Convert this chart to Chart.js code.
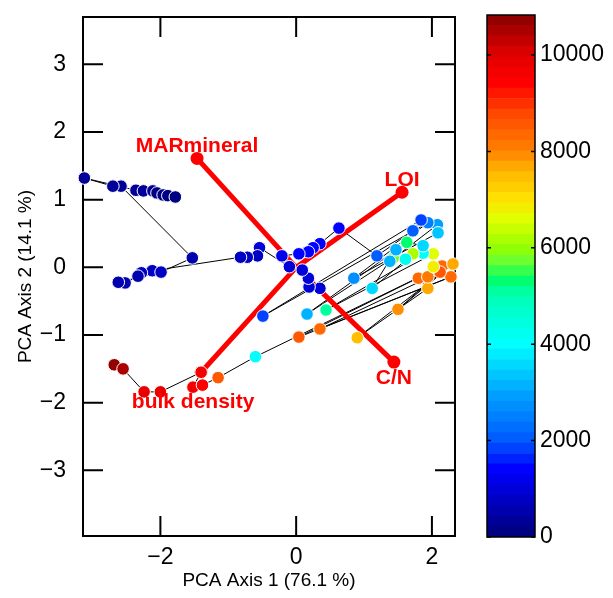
<!DOCTYPE html>
<html>
<head>
<meta charset="utf-8">
<script src="https://cdn.jsdelivr.net/npm/chart.js@4.4.1/dist/chart.umd.min.js"></script>
<style>
  html, body { margin: 0; padding: 0; background: #fff; overflow: hidden; }
  #wrap { position: relative; width: 613px; height: 598px; }
  #pca { position: absolute; left: 0; top: 0; }
  #bar { position: absolute; left: 470px; top: 0; }
</style>
</head>
<body>
<div id="wrap">
  <canvas id="pca" width="470" height="598"></canvas>
  <canvas id="bar" width="143" height="598"></canvas>
</div>
<script>
// sample scores on the first two PCA axes, in time order (oldest first)
const pcaX = [-2.68,-2.55,-2.24,-2.00,-1.40,-1.52,-1.38,-1.15,-0.60,2.15,
  0.04,2.28,0.35,2.12,1.50,2.31,0.90,1.94,1.80,1.94,
  2.02,2.02,0.44,1.87,1.72,1.61,1.43,0.16,1.63,1.87,
  1.12,1.47,1.38,2.08,2.09,0.85,1.94,-0.49,1.84,1.72,
  1.19,0.63,0.35,0.25,0.18,0.04,-0.21,0.35,0.19,0.18,
  0.09,-0.10,-0.54,-0.57,-0.72,-0.82,
  -2.12,-2.28,-2.33,-2.52,-2.62,-1.99,-1.53,
  -2.58,-2.70,-3.12,-2.36,-2.25,-2.11,-2.05,-1.96,-1.89,-1.78]
const pcaY = [-1.44,-1.50,-1.84,-1.84,-1.55,-1.77,-1.74,-1.63,-1.32,0.02,
  -1.03,-0.14,-0.91,-0.07,-0.62,0.05,-1.04,-0.31,-0.16,-0.14,
  0.01,0.20,-0.63,0.21,0.20,0.12,0.14,-0.69,0.37,0.32,
  -0.31,0.26,0.09,0.63,0.51,-0.16,0.66,-0.72,0.70,0.54,
  0.17,0.58,0.35,0.29,0.23,0.20,0.17,-0.31,-0.29,-0.16,
  -0.04,0.01,0.29,0.17,0.15,0.15,
  -0.05,-0.08,-0.13,-0.23,-0.22,-0.07,0.14,
  1.20,1.20,1.32,1.14,1.13,1.13,1.10,1.07,1.06,1.04]
const ages = [10700,10450,9900,9800,9700,9600,9500,8600,3900,8300,
  8500,8400,8350,8450,7900,7600,7400,7600,8300,8200,
  6900,6600,5000,4100,6200,4300,5700,3200,5400,3500,
  3600,3200,3200,2900,3300,2600,2500,1800,1800,2000,
  2100,1400,1450,1400,1350,1300,1250,1000,1050,1000,
  1000,950,900,850,820,800,
  680,650,620,600,580,700,500,
  400,380,300,260,240,220,200,180,160,140]

// variable loadings
const vectorNames = ['MARmineral', 'LOI', 'C/N', 'bulk density']
const vectorX = [-1.46, 1.56, 1.44, -1.40]
const vectorY = [1.61, 1.11, -1.40, -1.55]

const xTicks = [-2, 0, 2]
const yTicks = [-3, -2, -1, 0, 1, 2, 3]
const ageTicks = [0, 2000, 4000, 6000, 8000, 10000]
const ageMax = 10830

const FONT = 'Liberation Sans, Arial, Helvetica, sans-serif'
const bands = 50

// rainbow colour table
const stops = [
  [0, 0, 0, 120], [700, 0, 0, 190], [1400, 0, 0, 255], [2000, 0, 90, 255],
  [3000, 0, 165, 255], [4000, 0, 255, 255], [5000, 0, 255, 180], [5400, 0, 255, 90],
  [5600, 90, 255, 70], [6000, 150, 255, 0], [6600, 225, 255, 0], [7000, 255, 225, 0],
  [7600, 255, 180, 0], [8000, 255, 130, 0], [8800, 255, 70, 0], [9400, 255, 0, 0],
  [10000, 225, 0, 0], [10830, 135, 0, 0]
]
function colorAt(v) {
  const step = ageMax / bands
  const i = Math.min(bands - 1, Math.max(0, Math.floor(v / step)))
  const m = (i + 0.5) * step
  let k = 1
  while (k < stops.length - 1 && stops[k][0] < m) k++
  const a = stops[k - 1], b = stops[k]
  const t = Math.max(0, Math.min(1, (m - a[0]) / (b[0] - a[0])))
  const c = [1, 2, 3].map(j => Math.round(a[j] + (b[j] - a[j]) * t))
  return `rgb(${c[0]},${c[1]},${c[2]})`
}

const minus = v => v < 0 ? '\u2212' + (-v) : String(v)

// box with inward ticks
const frame = {
  id: 'frame',
  beforeDatasetsDraw(chart, args, opts) {
    const { ctx, chartArea: a, scales } = chart
    ctx.save()
    ctx.strokeStyle = '#000'
    ctx.lineWidth = opts.width
    ctx.strokeRect(a.left, a.top, a.right - a.left, a.bottom - a.top)
    ctx.beginPath()
    if (opts.xTicks) {
      scales.x.ticks.forEach(t => {
        const p = scales.x.getPixelForValue(t.value)
        ctx.moveTo(p, a.bottom); ctx.lineTo(p, a.bottom - opts.len)
        ctx.moveTo(p, a.top); ctx.lineTo(p, a.top + opts.len)
      })
    }
    scales.y.ticks.forEach(t => {
      const p = scales.y.getPixelForValue(t.value)
      ctx.moveTo(a.left, p); ctx.lineTo(a.left + opts.len, p)
      ctx.moveTo(a.right, p); ctx.lineTo(a.right - opts.len, p)
    })
    ctx.stroke()
    ctx.restore()
  }
}

// names at the tips of the loading vectors
const vectorLabels = {
  id: 'vectorLabels',
  afterDatasetsDraw(chart, args, opts) {
    const { ctx, scales } = chart
    ctx.save()
    ctx.fillStyle = '#ff0000'
    ctx.font = 'bold 21px ' + FONT
    ctx.textAlign = 'center'
    ctx.textBaseline = 'middle'
    vectorNames.forEach((name, i) => {
      const px = scales.x.getPixelForValue(vectorX[i]) + opts.offsets[i][0]
      const py = scales.y.getPixelForValue(vectorY[i]) + opts.offsets[i][1]
      ctx.fillText(name, px, py)
    })
    ctx.restore()
  }
}

const noPad = s => { s.paddingTop = 0; s.paddingBottom = 0; s.paddingLeft = 0; s.paddingRight = 0 }

const points = pcaX.map((x, i) => ({ x: x, y: pcaY[i] }))

const vectorSets = vectorNames.map((name, i) => ({
  label: name,
  data: [{ x: 0, y: 0 }, { x: vectorX[i], y: vectorY[i] }],
  showLine: true,
  borderColor: '#ff0000',
  borderWidth: 5,
  pointRadius: [0, 6.5],
  pointBackgroundColor: '#ff0000',
  pointBorderWidth: 0,
  clip: false
}))

new Chart(document.getElementById('pca'), {
  type: 'scatter',
  data: {
    datasets: [
      {
        label: 'samples',
        data: points,
        pointRadius: 6.3,
        pointBackgroundColor: ages.map(colorAt),
        pointBorderColor: '#fff',
        pointBorderWidth: 1,
        clip: false
      },
      ...vectorSets,
      {
        label: 'path',
        data: points,
        showLine: true,
        borderColor: '#000',
        borderWidth: 1,
        pointRadius: 0
      }
    ]
  },
  options: {
    responsive: false,
    animation: false,
    devicePixelRatio: 1,
    layout: { autoPadding: false, padding: { top: 17, right: 15, left: 0, bottom: 0 } },
    plugins: {
      legend: { display: false },
      tooltip: { enabled: false },
      frame: { width: 2, len: 20, xTicks: true },
      vectorLabels: { offsets: [[0, -12], [0, -12], [0, 16], [-8, 30]] }
    },
    scales: {
      x: {
        type: 'linear',
        min: -3.14,
        max: 2.34,
        grid: { display: false },
        border: { display: false },
        afterBuildTicks: s => { s.ticks = xTicks.map(v => ({ value: v })) },
        afterFit: s => { s.height = 62; noPad(s) },
        ticks: { color: '#000', padding: 0, font: { family: FONT, size: 23 }, callback: minus },
        title: { display: true, text: 'PCA Axis 1 (76.1 %)', color: '#000', padding: { top: 0, bottom: 6 }, font: { family: FONT, size: 19 } }
      },
      y: {
        type: 'linear',
        min: -3.97,
        max: 3.7,
        grid: { display: false },
        border: { display: false },
        afterBuildTicks: s => { s.ticks = yTicks.map(v => ({ value: v })) },
        afterFit: s => { s.width = 83; noPad(s) },
        ticks: { color: '#000', padding: 9, font: { family: FONT, size: 23 }, callback: minus },
        title: { display: true, text: 'PCA Axis 2 (14.1 %)', color: '#000', padding: { top: 14, bottom: 0 }, font: { family: FONT, size: 19 } }
      }
    }
  },
  plugins: [frame, vectorLabels]
})

// colour bar
const step = ageMax / bands
const bandSets = Array.from({ length: bands }, (_, i) => ({
  data: [[i * step, (i + 1) * step]],
  backgroundColor: colorAt((i + 0.5) * step),
  borderWidth: 0,
  barPercentage: 1,
  categoryPercentage: 1
}))

new Chart(document.getElementById('bar'), {
  type: 'bar',
  data: { labels: ['age'], datasets: bandSets },
  options: {
    responsive: false,
    animation: false,
    devicePixelRatio: 1,
    layout: { autoPadding: false, padding: { top: 15, left: 17, right: 0, bottom: 61 } },
    plugins: {
      legend: { display: false },
      tooltip: { enabled: false },
      frame: { width: 1.5, len: 4, xTicks: false }
    },
    scales: {
      x: { display: false, stacked: true },
      y: {
        type: 'linear',
        position: 'right',
        min: 0,
        max: ageMax,
        grid: { display: false },
        border: { display: false },
        afterBuildTicks: s => { s.ticks = ageTicks.map(v => ({ value: v })) },
        afterFit: s => { s.width = 78; noPad(s) },
        ticks: { color: '#000', padding: -3, font: { family: FONT, size: 23 }, callback: v => String(v) }
      }
    }
  },
  plugins: [{ id: 'cbFrame', afterDatasetsDraw: (c) => frame.beforeDatasetsDraw(c, null, c.options.plugins.frame) }]
})
</script>
</body>
</html>
